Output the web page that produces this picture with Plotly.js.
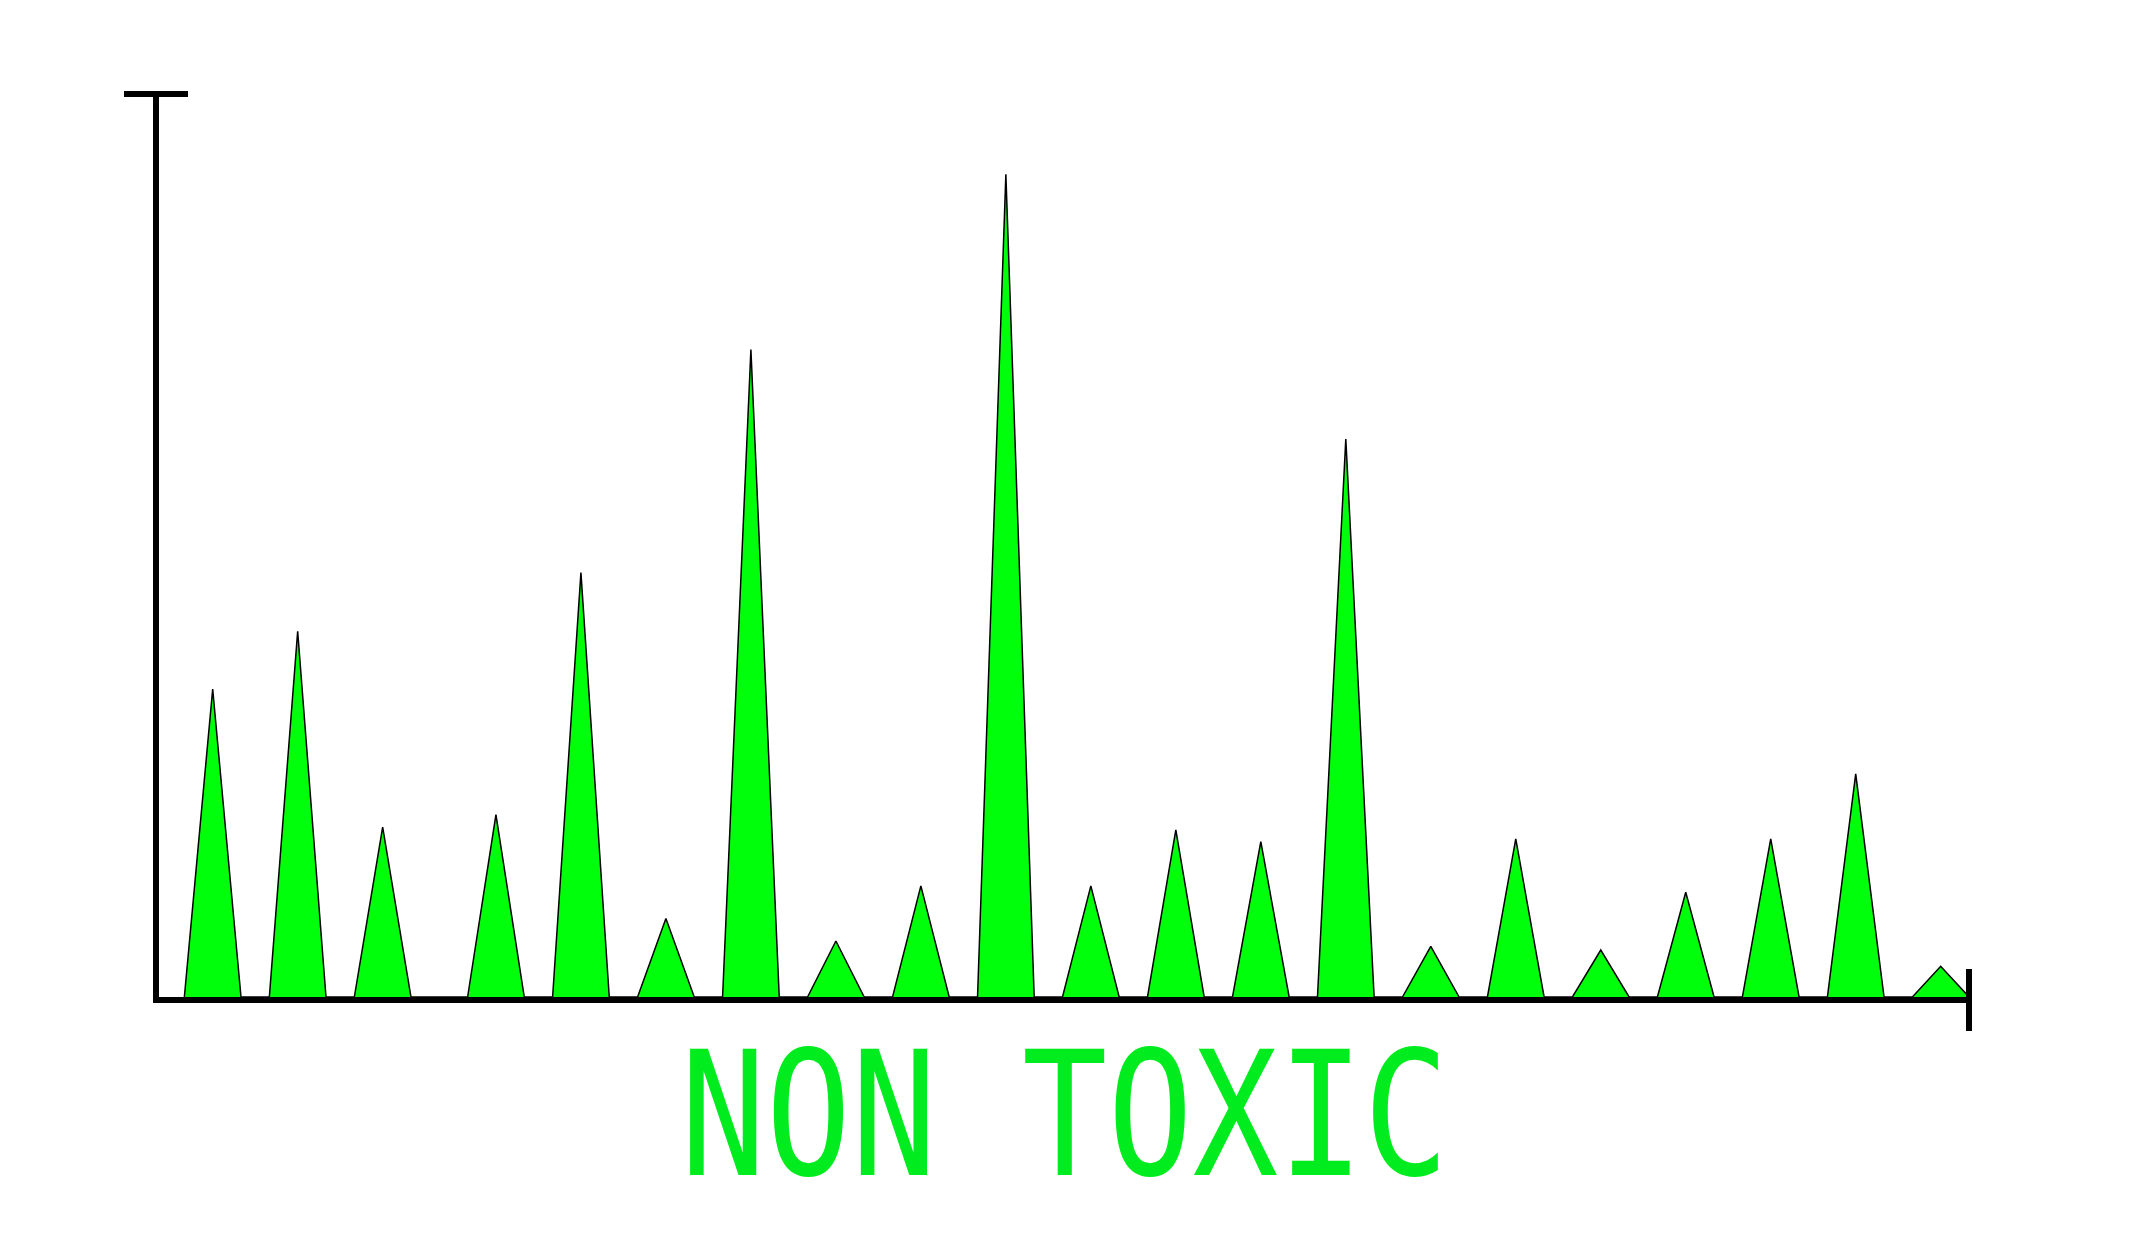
<!DOCTYPE html>
<html>
<head>
<meta charset="utf-8">
<script src="https://cdn.plot.ly/plotly-3.0.1.min.js"></script>
<style>
  html, body { margin: 0; padding: 0; background: #ffffff; }
  #chart { width: 2134px; height: 1250px; }
</style>
</head>
<body>
<div id="chart"></div>
<script>
// ---- data ----
const peakPositions = [0.667, 1.667, 2.667, 4, 5, 6, 7, 8, 9, 10, 11, 12, 13, 14, 15, 16, 17, 18, 19, 20, 21];
const peakValues    = [34.1, 40.5, 18.8, 20.2, 47.0, 8.7, 71.7, 6.2, 12.3, 91.1, 12.3, 18.5, 17.2, 61.8, 5.6, 17.5, 5.2, 11.6, 17.5, 24.7, 3.4];
const titleText = "NON TOXIC";

// ---- build triangle outline from the data ----
const halfWidth = 1 / 3;
const xs = [], ys = [];
peakPositions.forEach((p, i) => {
  xs.push(p - halfWidth, p, p + halfWidth);
  ys.push(0, peakValues[i], 0);
});

const trace = {
  type: 'scatter',
  mode: 'lines',
  x: xs,
  y: ys,
  fill: 'tozeroy',
  fillcolor: '#00ff0a',
  line: { color: '#000000', width: 1.5, shape: 'linear' },
  hoverinfo: 'skip',
  showlegend: false
};

const layout = {
  width: 2134,
  height: 1250,
  margin: { l: 159, r: 165, t: 94, b: 253, pad: 0 },
  paper_bgcolor: '#ffffff',
  plot_bgcolor: '#ffffff',
  showlegend: false,
  xaxis: {
    range: [0.0353, 21.333],
    showline: true, linewidth: 6, linecolor: '#000000',
    showgrid: false, zeroline: false, showticklabels: false, ticks: ''
  },
  yaxis: {
    range: [0, 100],
    showline: true, linewidth: 6, linecolor: '#000000',
    showgrid: false, zeroline: false, showticklabels: false, ticks: ''
  },
  shapes: [
    { type: 'line', xref: 'paper', yref: 'paper', xsizemode: 'pixel', xanchor: 0,
      x0: -35, x1: 29, y0: 1, y1: 1, line: { color: '#000000', width: 6 } },
    { type: 'line', xref: 'paper', yref: 'paper', ysizemode: 'pixel', yanchor: 0,
      x0: 1, x1: 1, y0: -34, y1: 28, line: { color: '#000000', width: 6 } }
  ],
  annotations: [
    { text: titleText, xref: 'paper', yref: 'paper', x: 0.5, y: -0.131,
      xanchor: 'center', yanchor: 'middle', showarrow: false,
      font: { family: 'DejaVu Sans Mono', size: 173, color: '#00ec1e' } }
  ]
};

Plotly.newPlot('chart', [trace], layout, { displayModeBar: false, staticPlot: true }).then(() => {
  const t = document.querySelector('.annotation-text');
  if (t) {
    t.style.transformBox = 'fill-box';
    t.style.transformOrigin = 'center';
    t.style.transform = 'scaleX(0.82)';
  }
});
</script>
</body>
</html>
